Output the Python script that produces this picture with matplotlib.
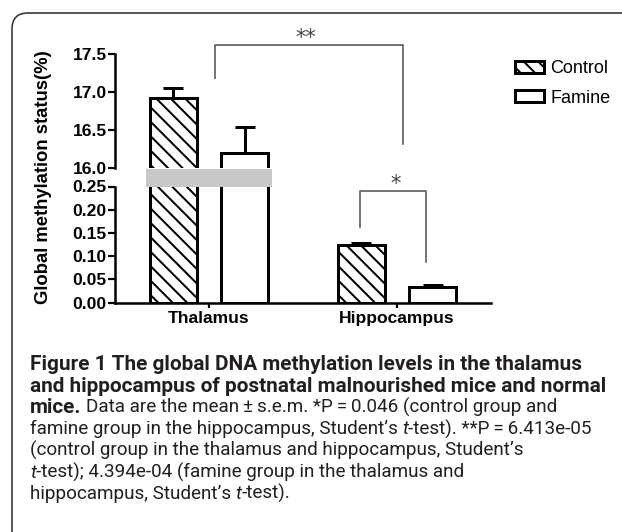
import numpy as np
import matplotlib
matplotlib.use("Agg")
import matplotlib.pyplot as plt
import matplotlib.transforms as mtransforms
from matplotlib.patches import FancyBboxPatch, Rectangle
from matplotlib.font_manager import FontProperties, findfont
from matplotlib.ft2font import FT2Font

# données
regions = ["Thalamus", "Hippocampus"]
groups = ["Control", "Famine"]
control_mean = [16.925, 0.124]
control_sem = [0.125, 0.004]
famine_mean = [16.20, 0.034]
famine_sem = [0.335, 0.005]

upper_ticks = [16.0, 16.5, 17.0, 17.5]
lower_ticks = [0.00, 0.05, 0.10, 0.15, 0.20, 0.25]

# "~" = espace fine autour de = et ±
caption = [
    [("Figure 1 The global DNA methylation levels in the thalamus", "b")],
    [("and hippocampus of postnatal malnourished mice and normal", "b")],
    [("mice.", "b"), (" Data are the mean~±~s.e.m. *P~=~0.046 (control group and", "r")],
    [("famine group in the hippocampus, Student’s ", "r"), ("t", "i"), ("-test). **P~=~6.413e-05", "r")],
    [("(control group in the thalamus and hippocampus, Student’s", "r")],
    [("t", "i"), ("-test); 4.394e-04 (famine group in the thalamus and", "r")],
    [("hippocampus, Student’s ", "r"), ("t", "i"), ("-test).", "r")],
]

DPI = 130
W, H = 622, 532


def pt(px):
    return px * 72 / DPI


plt.rcParams["font.family"] = "Liberation Sans"
plt.rcParams["hatch.linewidth"] = pt(2.0)

fig = plt.figure(figsize=(W / DPI, H / DPI), dpi=DPI)


def px_axes(l, t, r, b):
    return fig.add_axes([l / W, 1 - b / H, (r - l) / W, (b - t) / H])


ax_hi = px_axes(115, 54, 491, 168)
ax_lo = px_axes(115, 186.5, 491, 302.7)

x = np.arange(len(regions))
off, width = 0.19, 0.25
lw_bar = pt(3)
handles = []
for ax in (ax_hi, ax_lo):
    bc = ax.bar(x - off, control_mean, width, color="white", edgecolor="black",
                hatch="\\\\\\", linewidth=lw_bar, label=groups[0], zorder=2)
    bf = ax.bar(x + off, famine_mean, width, color="white", edgecolor="black",
                linewidth=lw_bar, label=groups[1], zorder=2)
    for xs, m, s in ((x - off, control_mean, control_sem), (x + off, famine_mean, famine_sem)):
        ax.errorbar(xs, m, yerr=[np.zeros(len(s)), s], fmt="none", ecolor="black",
                    elinewidth=pt(3), capsize=pt(10), capthick=pt(3), zorder=1)
    ax.set_xlim(-0.5, 1.5)
    for sp in ("top", "right"):
        ax.spines[sp].set_visible(False)
    for sp in ax.spines.values():
        sp.set_linewidth(pt(2.5))
    ax.tick_params(axis="y", length=pt(7), width=pt(2.2), pad=pt(1.5), labelsize=pt(17.5))
    handles = [bc, bf]

ax_hi.set_ylim(16.0, 17.5)
ax_hi.spines["bottom"].set_visible(False)
ax_hi.set_xticks([])
ax_hi.set_yticks(upper_ticks)
ax_hi.set_yticklabels([f"{v:.1f}" for v in upper_ticks], fontweight="bold")

ax_lo.set_ylim(0, 0.25)
ax_lo.set_yticks(lower_ticks)
ax_lo.set_yticklabels([f"{v:.2f}" for v in lower_ticks], fontweight="bold")
ax_lo.set_xticks(x)
ax_lo.set_xticklabels(regions, fontweight="bold")
ax_lo.tick_params(axis="x", length=pt(5), width=pt(2.2), pad=pt(3), labelsize=pt(17.5))

fig.text(44 / W, 1 - 177.5 / H, "Global methylation status(%)", rotation=90,
         ha="center", va="center", fontsize=pt(18.5), fontweight="bold")

# crochets de significativité
br_col = "#555555"
ax_hi.plot([0.032, 0.032, 1.033, 1.033], [17.184, 17.618, 17.618, 16.316],
           color=br_col, lw=pt(1.6), clip_on=False)
ax_hi.text(0.517, 17.625, "**", ha="center", va="baseline", fontsize=pt(21),
           color="#444444", family="DejaVu Sans", clip_on=False)
ax_lo.plot([0.805, 0.805, 1.156, 1.156], [0.1635, 0.241, 0.241, 0.0869],
           color=br_col, lw=pt(1.6), clip_on=False)
ax_lo.text(0.99, 0.242, "*", ha="center", va="baseline", fontsize=pt(21),
           color="#444444", family="DejaVu Sans", clip_on=False)

fig.legend(handles, groups, loc="upper left", bbox_to_anchor=(515 / W, 1 - 60 / H),
           frameon=False, fontsize=pt(18), handlelength=29 / 18, handleheight=12 / 18,
           handletextpad=0.35, labelspacing=0.7, borderpad=0, borderaxespad=0)

# calque en pixels : cadre, bande grise, légende de figure
ov = fig.add_axes([0, 0, 1, 1], zorder=5)
ov.set_xlim(0, W)
ov.set_ylim(H, 0)
ov.axis("off")
ov.patch.set_alpha(0)

ov.add_patch(FancyBboxPatch((12, 13), W + 60, H + 60, boxstyle="round,pad=0,rounding_size=16",
                            fill=False, lw=pt(1.6), ec="#333333"))

blend = mtransforms.blended_transform_factory(ax_lo.transData, ov.transData)
ov.add_patch(Rectangle((-0.335, 169), 0.67, 18, color="#c8c8c8", transform=blend, lw=0))

fam = "Roboto"
thin = "\u2009"
try:
    if FT2Font(findfont(FontProperties(family=fam))).get_char_index(0x2009) == 0:
        thin = " "
except Exception:
    thin = " "
caption = [[(s.replace("~", thin), k) for s, k in line] for line in caption]

renderer = fig.canvas.get_renderer()


def text_w(s, fp):
    return renderer.get_text_width_height_descent(s, fp, False)[0]


def line_w(segs, fp):
    return text_w("".join(s for s, _ in segs), fp)


probe_b = FontProperties(family=fam, weight="bold", size=10)
probe_r = FontProperties(family=fam, size=10)
size_b = 10 * 577 / text_w(caption[1][0][0], probe_b)
size_r = 10 * 566 / line_w(caption[3], probe_r)
fps = {
    "b": FontProperties(family=fam, weight="bold", size=size_b),
    "r": FontProperties(family=fam, size=size_r),
    "i": FontProperties(family=fam, style="italic", size=size_r),
}


def space_w(fp):
    return text_w("a a", fp) - text_w("aa", fp)


cap_col = "#231f20"
for i, line in enumerate(caption):
    xpos = 30.0
    ypos = 370 + 21.5 * i
    for s, k in line:
        fp = fps[k]
        core = s.strip(" ")
        lead = len(s) - len(s.lstrip(" "))
        trail = len(s) - len(s.rstrip(" "))
        xpos += lead * space_w(fp)
        ov.text(xpos, ypos, core, fontproperties=fp, ha="left", va="baseline", color=cap_col)
        xpos += text_w(core, fp) + trail * space_w(fp)

fig.savefig("out.png", dpi=DPI)
